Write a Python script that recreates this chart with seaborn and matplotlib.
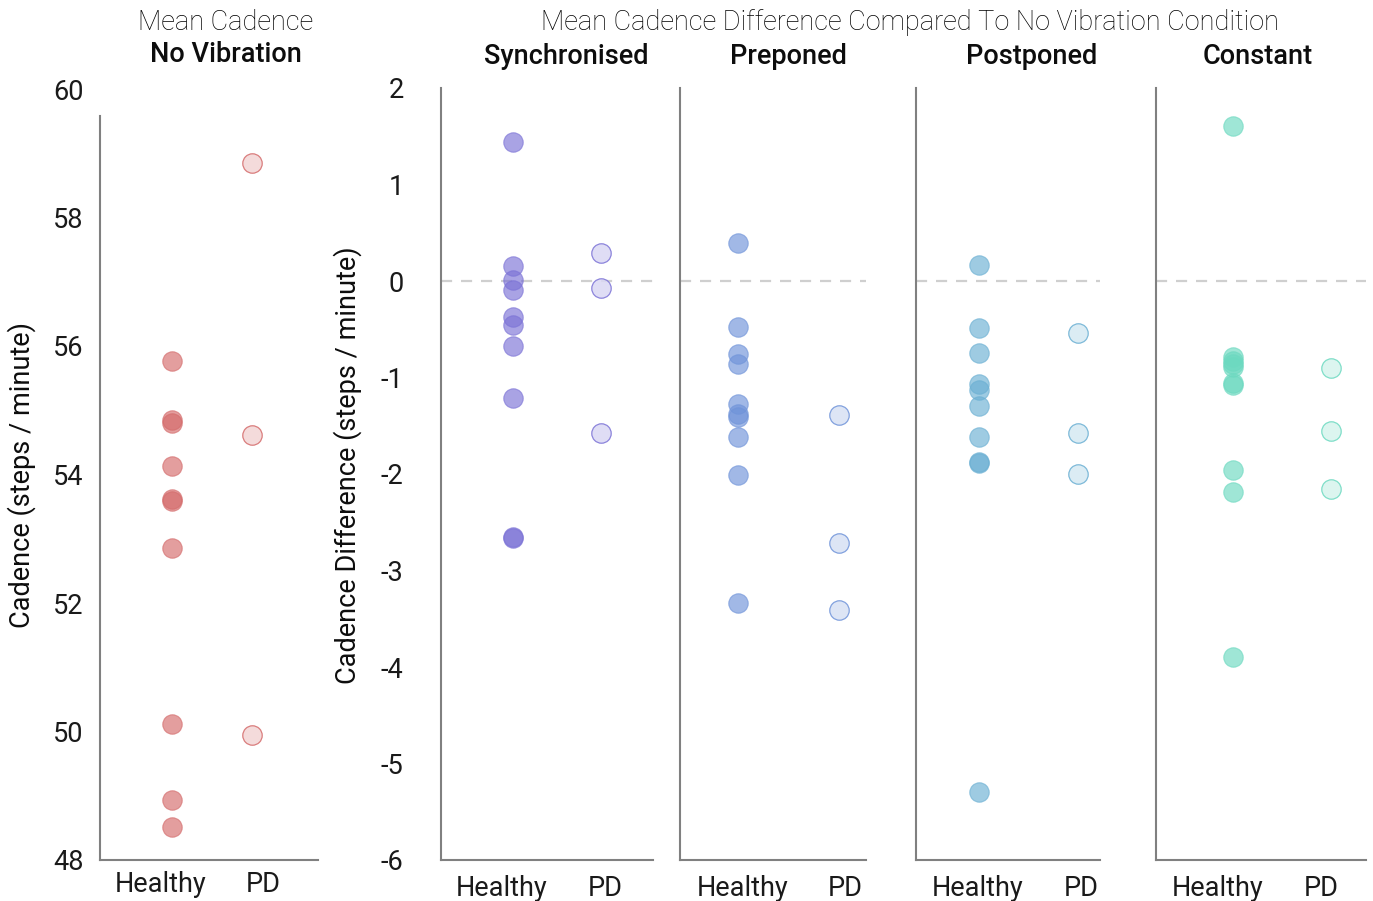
import numpy as np
import pandas as pd
import matplotlib
matplotlib.use("Agg")
import matplotlib.pyplot as plt
import seaborn as sns

# ---------------- data ----------------
groups = ["Healthy", "PD"]

nv_healthy = [55.77, 54.85, 54.80, 54.14, 53.62, 53.58, 52.85, 50.12, 48.93, 48.51]
nv_pd = [58.85, 54.62, 49.95]

conditions = ["Synchronised", "Preponed", "Postponed", "Constant"]
sync_healthy = [1.44, 0.16, 0.01, -0.09, -0.37, -0.46, -0.67, -1.21, -2.65, -2.66]
sync_pd = [0.29, -0.07, -1.58]
prep_healthy = [0.39, -0.48, -0.76, -0.86, -1.27, -1.38, -1.41, -1.62, -2.01, -3.34]
prep_pd = [-1.39, -2.71, -3.41]
post_healthy = [0.17, -0.49, -0.75, -1.07, -1.13, -1.30, -1.62, -1.88, -1.89, -5.30]
post_pd = [-0.54, -1.58, -2.00]
const_healthy = [1.61, -0.79, -0.83, -0.86, -0.89, -1.06, -1.08, -1.96, -2.19, -3.90]
const_pd = [-0.90, -1.55, -2.16]

diff_healthy = [sync_healthy, prep_healthy, post_healthy, const_healthy]
diff_pd = [sync_pd, prep_pd, post_pd, const_pd]

# ---------------- style ----------------
sns.set_theme(style="white")
plt.rcParams["font.family"] = ["Roboto", "DejaVu Sans"]
plt.rcParams["axes.unicode_minus"] = False
FS = 19.5
SPINE = "#808080"
TXT = "#1a1a1a"
W, H = 1373, 901

colors_nv = "#d46a6a"
colors_diff = ["#7b72d6", "#6f93d9", "#6aafd3", "#6cd9c0"]

def light(c, f=0.28):
    r, g, b = matplotlib.colors.to_rgb(c)
    return (1 - f + f * r, 1 - f + f * g, 1 - f + f * b)

fig = plt.figure(figsize=(W / 100, H / 100), dpi=100)

def make_ax(left_px, right_px, top_px, bottom_px):
    return fig.add_axes([left_px / W, 1 - bottom_px / H,
                         (right_px - left_px) / W, (bottom_px - top_px) / H])

def draw(ax, healthy, pdv, color):
    dfh = pd.DataFrame({"group": ["Healthy"] * len(healthy), "value": healthy})
    dfp = pd.DataFrame({"group": ["PD"] * len(pdv), "value": pdv})
    sns.stripplot(data=dfh, x="group", y="value", order=groups, jitter=False,
                  color=color, alpha=0.65, size=14, edgecolor=color,
                  linewidth=0.8, ax=ax, zorder=3)
    sns.stripplot(data=dfp, x="group", y="value", order=groups, jitter=False,
                  color=light(color), alpha=0.85, size=14, edgecolor=color,
                  linewidth=0.9, ax=ax, zorder=3)

def style_ax(ax, label_pos):
    for s in ["top", "right"]:
        ax.spines[s].set_visible(False)
    for s in ["left", "bottom"]:
        ax.spines[s].set_color(SPINE)
        ax.spines[s].set_linewidth(1.5)
    ax.set_xlabel("")
    ax.set_ylabel("")
    ax.tick_params(axis="y", direction="in", length=7, width=1.3, color=SPINE,
                   labelsize=FS, labelcolor=TXT)
    ax.tick_params(axis="x", direction="in", length=3, width=1, color="#dddddd",
                   labelsize=FS, labelcolor=TXT, pad=8)
    ax.set_xticks(label_pos)
    ax.set_xticklabels(groups)
    ax.grid(False)

# ---- panel 1: mean cadence, no vibration ----
ax1 = make_ax(100, 318, 89, 860)
draw(ax1, nv_healthy, nv_pd, colors_nv)
ax1.set_ylim(48, 60)
ax1.set_xlim(-0.9, 1.825)
ax1.set_yticks(np.arange(48, 61, 2))
style_ax(ax1, [-0.14, 1.14])
ax1.tick_params(axis="y", pad=12)
ax1.spines["left"].set_bounds(48, 59.58)
ax1.yaxis.get_major_ticks()[-1].tick1line.set_visible(False)

# ---- panels 2-5: differences ----
panel_px = [(441, 653, -0.818, 1.59), (680, 866, -0.574, 1.267),
            (916, 1100, -0.636, 1.222), (1156, 1366, -0.786, 1.357)]
label_pos = [[-0.125, 1.045], [0.05, 1.06], [-0.01, 1.03], [-0.153, 0.898]]
title_x = [566, 788, 1032, 1258]
for i, (l, r, x0, x1) in enumerate(panel_px):
    ax = make_ax(l, r, 88, 860)
    ax.axhline(0, color="#cfcfcf", lw=1.6, ls=(0, (5, 4)), zorder=1)
    draw(ax, diff_healthy[i], diff_pd[i], colors_diff[i])
    ax.set_ylim(-6, 2)
    ax.set_xlim(x0, x1)
    ax.set_yticks(np.arange(-6, 3, 1))
    style_ax(ax, label_pos[i])
    ax.tick_params(axis="x", pad=11)
    if i == 0:
        ax.tick_params(axis="y", pad=27)
    else:
        ax.tick_params(axis="y", labelleft=False)
    fig.text(title_x[i] / W, 1 - 57 / H, conditions[i], ha="center", va="center",
             fontsize=FS, fontweight="medium", color="#0d0d0d")

# ---- titles & labels ----
fig.text(226 / W, 1 - 23 / H, "Mean Cadence", ha="center", va="center",
         fontsize=FS, fontweight="light", color="#000000")
fig.text(226 / W, 1 - 55 / H, "No Vibration", ha="center", va="center",
         fontsize=FS, fontweight="medium", color="#0d0d0d")
fig.text(910 / W, 1 - 23 / H, "Mean Cadence Difference Compared To No Vibration Condition",
         ha="center", va="center", fontsize=FS, fontweight="light", color="#000000")
fig.text(22 / W, 1 - 475 / H, "Cadence (steps / minute)", rotation=90,
         ha="center", va="center", fontsize=FS, color="#0d0d0d")
fig.text(348 / W, 1 - 465 / H, "Cadence Difference (steps / minute)", rotation=90,
         ha="center", va="center", fontsize=FS, color="#0d0d0d")

fig.savefig("out.png", dpi=100, facecolor="white")
